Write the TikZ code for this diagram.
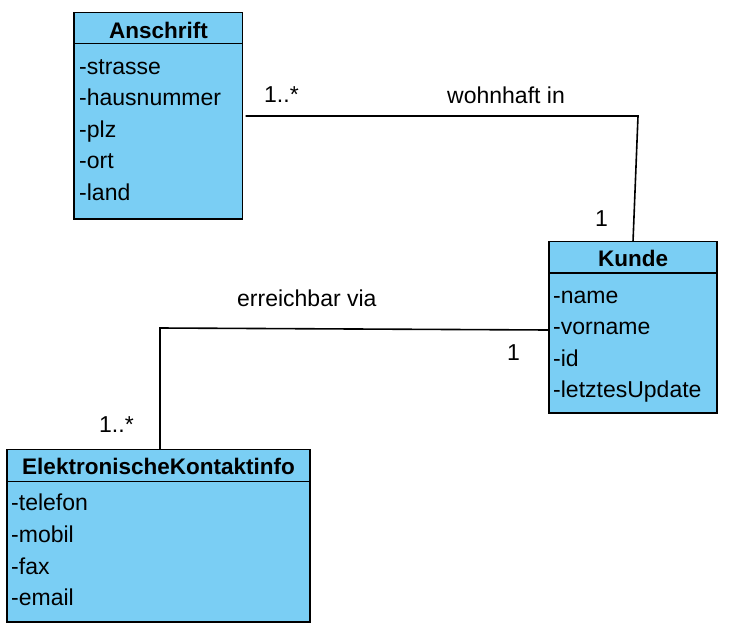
\documentclass[tikz,border=0pt]{standalone}
\usepackage{fontspec}
\setmainfont{Liberation Sans}
\definecolor{classfill}{HTML}{7ACEF4}
\begin{document}
\begin{tikzpicture}[x=1pt,y=-1pt,
  classbox/.style={draw=black, fill=classfill, line width=1.6pt, inner sep=0pt, outer sep=0pt},
  hdrline/.style={line width=1.4pt},
  assoc/.style={line width=1.6pt},
  attr/.style={anchor=base west, inner sep=0pt, font=\fontsize{23}{27}\selectfont},
  title/.style={anchor=base, inner sep=0pt, font=\fontsize{22.5}{27}\selectfont\bfseries},
  lbl/.style={anchor=base west, inner sep=0pt, font=\fontsize{23}{27}\selectfont}]
\useasboundingbox (0,0) rectangle (738,629);
% Anschrift
\node[classbox, minimum width=168.5pt, minimum height=206.5pt] (ans) at (158.4,115.6) {};
\draw[hdrline] (74.2,43.3) coordinate (ansl) -- (242.7,43.3) coordinate (ansr);
\node[title] (anst) at (158.4,38) {Anschrift};
\node[attr] (a1) at (79,74) {-strasse};
\node[attr] (a2) at (79,105.5) {-hausnummer};
\node[attr] (a3) at (79,137) {-plz};
\node[attr] (a4) at (79,168.5) {-ort};
\node[attr] (a5) at (79,200) {-land};
% Kunde
\node[classbox, minimum width=168.3pt, minimum height=171.3pt] (kun) at (633.1,327.3) {};
\draw[hdrline] (549,273) coordinate (kunl) -- (717.3,273) coordinate (kunr);
\node[title] (kunt) at (633.1,266) {Kunde};
\node[attr] (k1) at (553,303) {-name};
\node[attr] (k2) at (553,334) {-vorname};
\node[attr] (k3) at (553,366) {-id};
\node[attr] (k4) at (553,397) {-letztesUpdate};
% ElektronischeKontaktinfo
\node[classbox, minimum width=303pt, minimum height=172.4pt] (ele) at (158.5,535.5) {};
\draw[hdrline] (7,481.7) coordinate (elel) -- (310,481.7) coordinate (eler);
\node[title] (elet) at (158.5,474) {ElektronischeKontaktinfo};
\node[attr] (e1) at (11,510.7) {-telefon};
\node[attr] (e2) at (11,542.3) {-mobil};
\node[attr] (e3) at (11,574) {-fax};
\node[attr] (e4) at (11,605.7) {-email};
% association: wohnhaft in
\coordinate (w0) at (245.5,116);
\coordinate (w1) at (638,116);
\coordinate (w2) at (633,241.7);
\draw[assoc] (w0) -- (w1) -- (w2);
\node[lbl] (wl) at (447,103) {wohnhaft in};
\node[lbl] (wm1) at (264,102) {1..*};
\node[lbl] (wm2) at (595,226.7) {1};
% association: erreichbar via
\coordinate (r0) at (549,330);
\coordinate (r1) at (160,328);
\coordinate (r2) at (160,449.3);
\draw[assoc] (r0) -- (r1) -- (r2);
\node[lbl] (rl) at (237,306.7) {erreichbar via};
\node[lbl] (rm1) at (507,360) {1};
\node[lbl] (rm2) at (99,432) {1..*};
\end{tikzpicture}
\end{document}
